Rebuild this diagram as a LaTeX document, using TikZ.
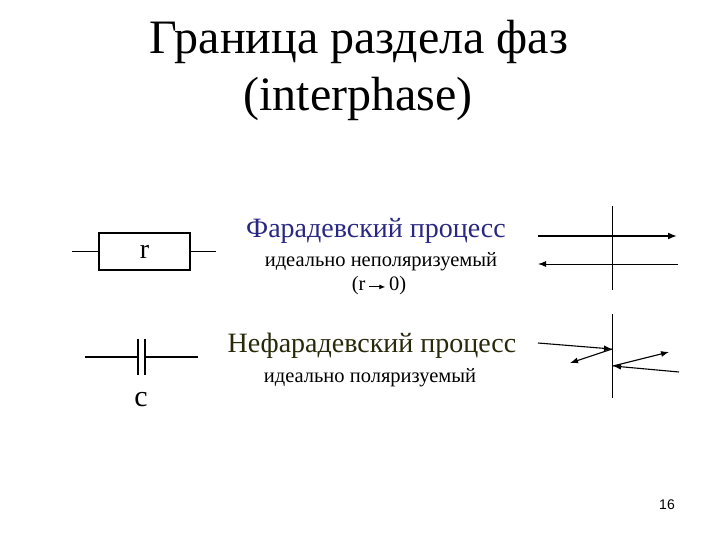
\documentclass[tikz,border=0pt]{standalone}
\usepackage{fontspec}
\setmainfont{Liberation Serif}
\newfontfamily\sansf{Liberation Sans}
\usetikzlibrary{arrows.meta}
\definecolor{fblue}{RGB}{40,40,130}
\definecolor{folive}{RGB}{40,40,10}
\tikzset{wire/.style={line width=1.7pt},ar/.style={line width=1.1pt,-{Latex[length=8pt,width=6pt]}},
 txt/.style={inner sep=0pt,anchor=center}}
\begin{document}
\begin{tikzpicture}[x=1pt,y=-1pt]
\useasboundingbox (0,0) rectangle (720,540);
\node[txt,font=\fontsize{48}{50}\selectfont] (t1) at (359,42) {Граница раздела фаз};
\node[txt,font=\fontsize{48}{50}\selectfont] (t2) at (358,99) {(interphase)};
% resistor
\node[draw,wire,minimum width=91pt,minimum height=37pt,font=\fontsize{28}{30}\selectfont] (r) at (144.5,251.5) {r};
\coordinate (rl) at (72,251.5); \coordinate (rr) at (216,251.5);
\draw[wire] (rl) -- (r.west); \draw[wire] (r.east) -- (rr);
% capacitor
\coordinate (cl) at (85,357); \coordinate (p1) at (138,357); \coordinate (p2) at (145,357); \coordinate (cr) at (198,357);
\draw[wire] (cl) -- (p1); \draw[wire] (p2) -- (cr);
\draw[wire] (138,339) -- (138,375); \draw[wire] (145,339) -- (145,375);
\node[txt,font=\fontsize{30}{32}\selectfont] (c) at (141,400) {c};
% texts
\node[txt,text=fblue,font=\fontsize{28}{30}\selectfont] (f) at (376,231) {Фарадевский процесс};
\node[txt,font=\fontsize{20.5}{22}\selectfont] (f2) at (381,262) {идеально неполяризуемый};
\node[txt,font=\fontsize{20.5}{22}\selectfont] (f3) at (379,286) {(r\,\tikz[baseline=-4pt]\draw[line width=0.9pt,-{Latex[length=6pt,width=5pt]}] (0,0)--(16pt,0);\,0)};
\node[txt,text=folive,font=\fontsize{28}{30}\selectfont] (n) at (372,346) {Нефарадевский процесс};
\node[txt,font=\fontsize{20.5}{22}\selectfont] (n2) at (370,378) {идеально поляризуемый};
% right diagram 1
\draw[line width=1pt] (612,206) -- (612,290);
\coordinate (a1) at (538,236); \coordinate (a2) at (677,236);
\draw[line width=1.8pt,-{Latex[length=9pt,width=7pt]}] (a1) -- (a2);
\coordinate (b1) at (678,264); \coordinate (b2) at (538,264);
\draw[line width=1pt,-{Latex[length=8pt,width=6pt]}] (b1) -- (b2);
% right diagram 2
\draw[line width=1pt] (612,314) -- (612,398);
\coordinate (s1) at (538,343); \coordinate (s2) at (612,349); \coordinate (s3) at (570,363);
\draw[ar] (s1) -- (s2); \draw[ar] (s2) -- (s3);
\coordinate (u1) at (679,372); \coordinate (u2) at (613,366); \coordinate (u3) at (669,352);
\draw[ar] (u1) -- (u2); \draw[ar] (u2) -- (u3);
\node[txt,font=\sansf\fontsize{14}{16}\selectfont] (pg) at (667,505) {16};
\end{tikzpicture}
\end{document}
